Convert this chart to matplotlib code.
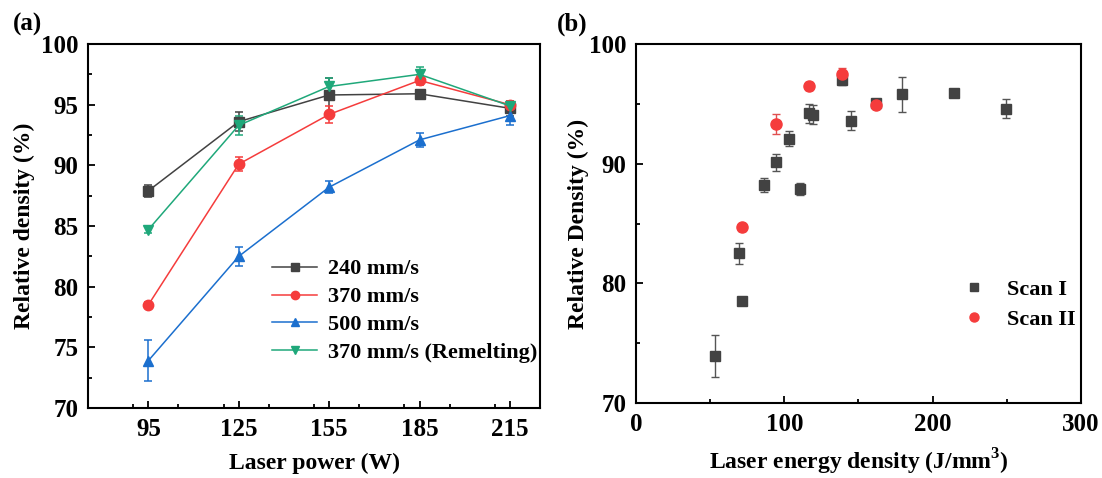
import matplotlib
matplotlib.use('Agg')
from matplotlib import pyplot as plt
from matplotlib.lines import Line2D
from matplotlib.ticker import MultipleLocator

plt.rcParams['font.family'] = ['Liberation Serif', 'DejaVu Serif']
plt.rcParams['font.weight'] = 'bold'
plt.rcParams['mathtext.fontset'] = 'custom'
plt.rcParams['mathtext.rm'] = 'Liberation Serif:bold'

# (a) relative density vs laser power
power = [95, 125, 155, 185, 215]
speed_labels = ['240 mm/s', '370 mm/s', '500 mm/s', '370 mm/s (Remelting)']
dens_240 = [87.9, 93.6, 95.8, 95.9, 94.7]
err_240 = [0.5, 0.8, 1.4, 0.1, 0.6]
dens_370 = [78.5, 90.1, 94.2, 97.0, 95.0]
err_370 = [0.2, 0.6, 0.7, 0.4, 0.3]
dens_500 = [73.9, 82.5, 88.2, 92.1, 94.1]
err_500 = [1.7, 0.8, 0.5, 0.6, 0.8]
dens_remelt = [84.7, 93.3, 96.5, 97.5, 94.9]
err_remelt = [0.3, 0.8, 0.7, 0.6, 0.3]

# (b) relative density vs laser energy density
scan1_e = [53.0, 69.6, 71.5, 86.2, 94.1, 103.1, 110.4, 116.9, 119.5, 139.0, 145.1, 161.8, 179.6, 214.5, 249.4]
scan1_d = [73.9, 82.5, 78.5, 88.2, 90.1, 92.1, 87.9, 94.2, 94.1, 97.0, 93.6, 95.1, 95.8, 95.9, 94.6]
scan1_err = [1.75, 0.85, 0.1, 0.6, 0.7, 0.6, 0.5, 0.8, 0.8, 0.4, 0.8, 0.2, 1.45, 0.1, 0.8]
scan2_e = [71.5, 94.1, 116.9, 139.0, 161.8]
scan2_d = [84.7, 93.3, 96.5, 97.5, 94.9]
scan2_err = [0.3, 0.85, 0.35, 0.5, 0.3]

c_black = '#424242'
c_red = '#f53c3c'
c_blue = '#1b6fce'
c_green = '#1fa87a'

fig = plt.figure(figsize=(11.02, 4.78), dpi=100)
ax1 = fig.add_axes([0.0799, 0.1464, 0.4102, 0.7615])
ax2 = fig.add_axes([0.5771, 0.1569, 0.4038, 0.751])

series = [
    (dens_240, err_240, c_black, 's'),
    (dens_370, err_370, c_red, 'o'),
    (dens_500, err_500, c_blue, '^'),
    (dens_remelt, err_remelt, c_green, 'v'),
]
handles = []
for (d, e, c, m), lab in zip(series, speed_labels):
    ax1.errorbar(power, d, yerr=e, color=c, marker=m, markersize=7.5, lw=1.1,
                 elinewidth=1.1, capsize=3, capthick=1.1)
    handles.append(Line2D([], [], color=c, marker=m, markersize=6, lw=1.1, label=lab))

ax1.set_xlim(75, 225)
ax1.set_ylim(70, 100)
ax1.set_xticks(power)
ax1.xaxis.set_minor_locator(MultipleLocator(15))
ax1.yaxis.set_major_locator(MultipleLocator(5))
ax1.yaxis.set_minor_locator(MultipleLocator(2.5))
ax1.set_xlabel('Laser power (W)', fontsize=17, fontweight='bold', labelpad=9)
ax1.set_ylabel('Relative density (%)', fontsize=17, fontweight='bold', labelpad=4)
ax1.legend(handles=handles, loc='upper left', bbox_to_anchor=(0.388, 0.434), frameon=False,
           fontsize=16, handlelength=2.0, handletextpad=0.5, labelspacing=0.33, borderaxespad=0)

ax2.errorbar(scan1_e, scan1_d, yerr=scan1_err, fmt='s', color=c_black, ecolor='#555555',
             markersize=7.5, elinewidth=1.0, capsize=3, capthick=1.0)
ax2.errorbar(scan2_e, scan2_d, yerr=scan2_err, fmt='o', color=c_red, ecolor='#e05050',
             markersize=8, elinewidth=1.0, capsize=3, capthick=1.0)
scan_handles = [
    Line2D([], [], color=c_black, marker='s', markersize=6, ls='none', label='Scan I'),
    Line2D([], [], color=c_red, marker='o', markersize=6.5, ls='none', label='Scan II'),
]
ax2.set_xlim(0, 300)
ax2.set_ylim(70, 100)
ax2.xaxis.set_major_locator(MultipleLocator(100))
ax2.xaxis.set_minor_locator(MultipleLocator(50))
ax2.yaxis.set_major_locator(MultipleLocator(10))
ax2.yaxis.set_minor_locator(MultipleLocator(5))
ax2.set_xlabel('Laser energy density (J/mm$^3$)', fontsize=17, fontweight='bold', labelpad=8)
ax2.set_ylabel('Relative Density (%)', fontsize=17, fontweight='bold', labelpad=0)
ax2.legend(handles=scan_handles, loc='upper left', bbox_to_anchor=(0.715, 0.37), frameon=False,
           fontsize=16, handlelength=1.0, handletextpad=1.0, labelspacing=0.45, borderaxespad=0)

for ax in (ax1, ax2):
    for sp in ax.spines.values():
        sp.set_linewidth(1.5)
    ax.tick_params(which='both', direction='in', width=1.3, labelsize=18, pad=7)
    ax.tick_params(which='major', length=5)
    ax.tick_params(which='minor', length=3)
    ax.tick_params(top=False, right=False, which='both')
    for t in ax.get_xticklabels() + ax.get_yticklabels():
        t.set_fontweight('bold')

fig.text(0.012, 0.935, '(a)', fontsize=18, fontweight='bold')
fig.text(0.505, 0.935, '(b)', fontsize=18, fontweight='bold')

fig.savefig('out.png', dpi=100)
